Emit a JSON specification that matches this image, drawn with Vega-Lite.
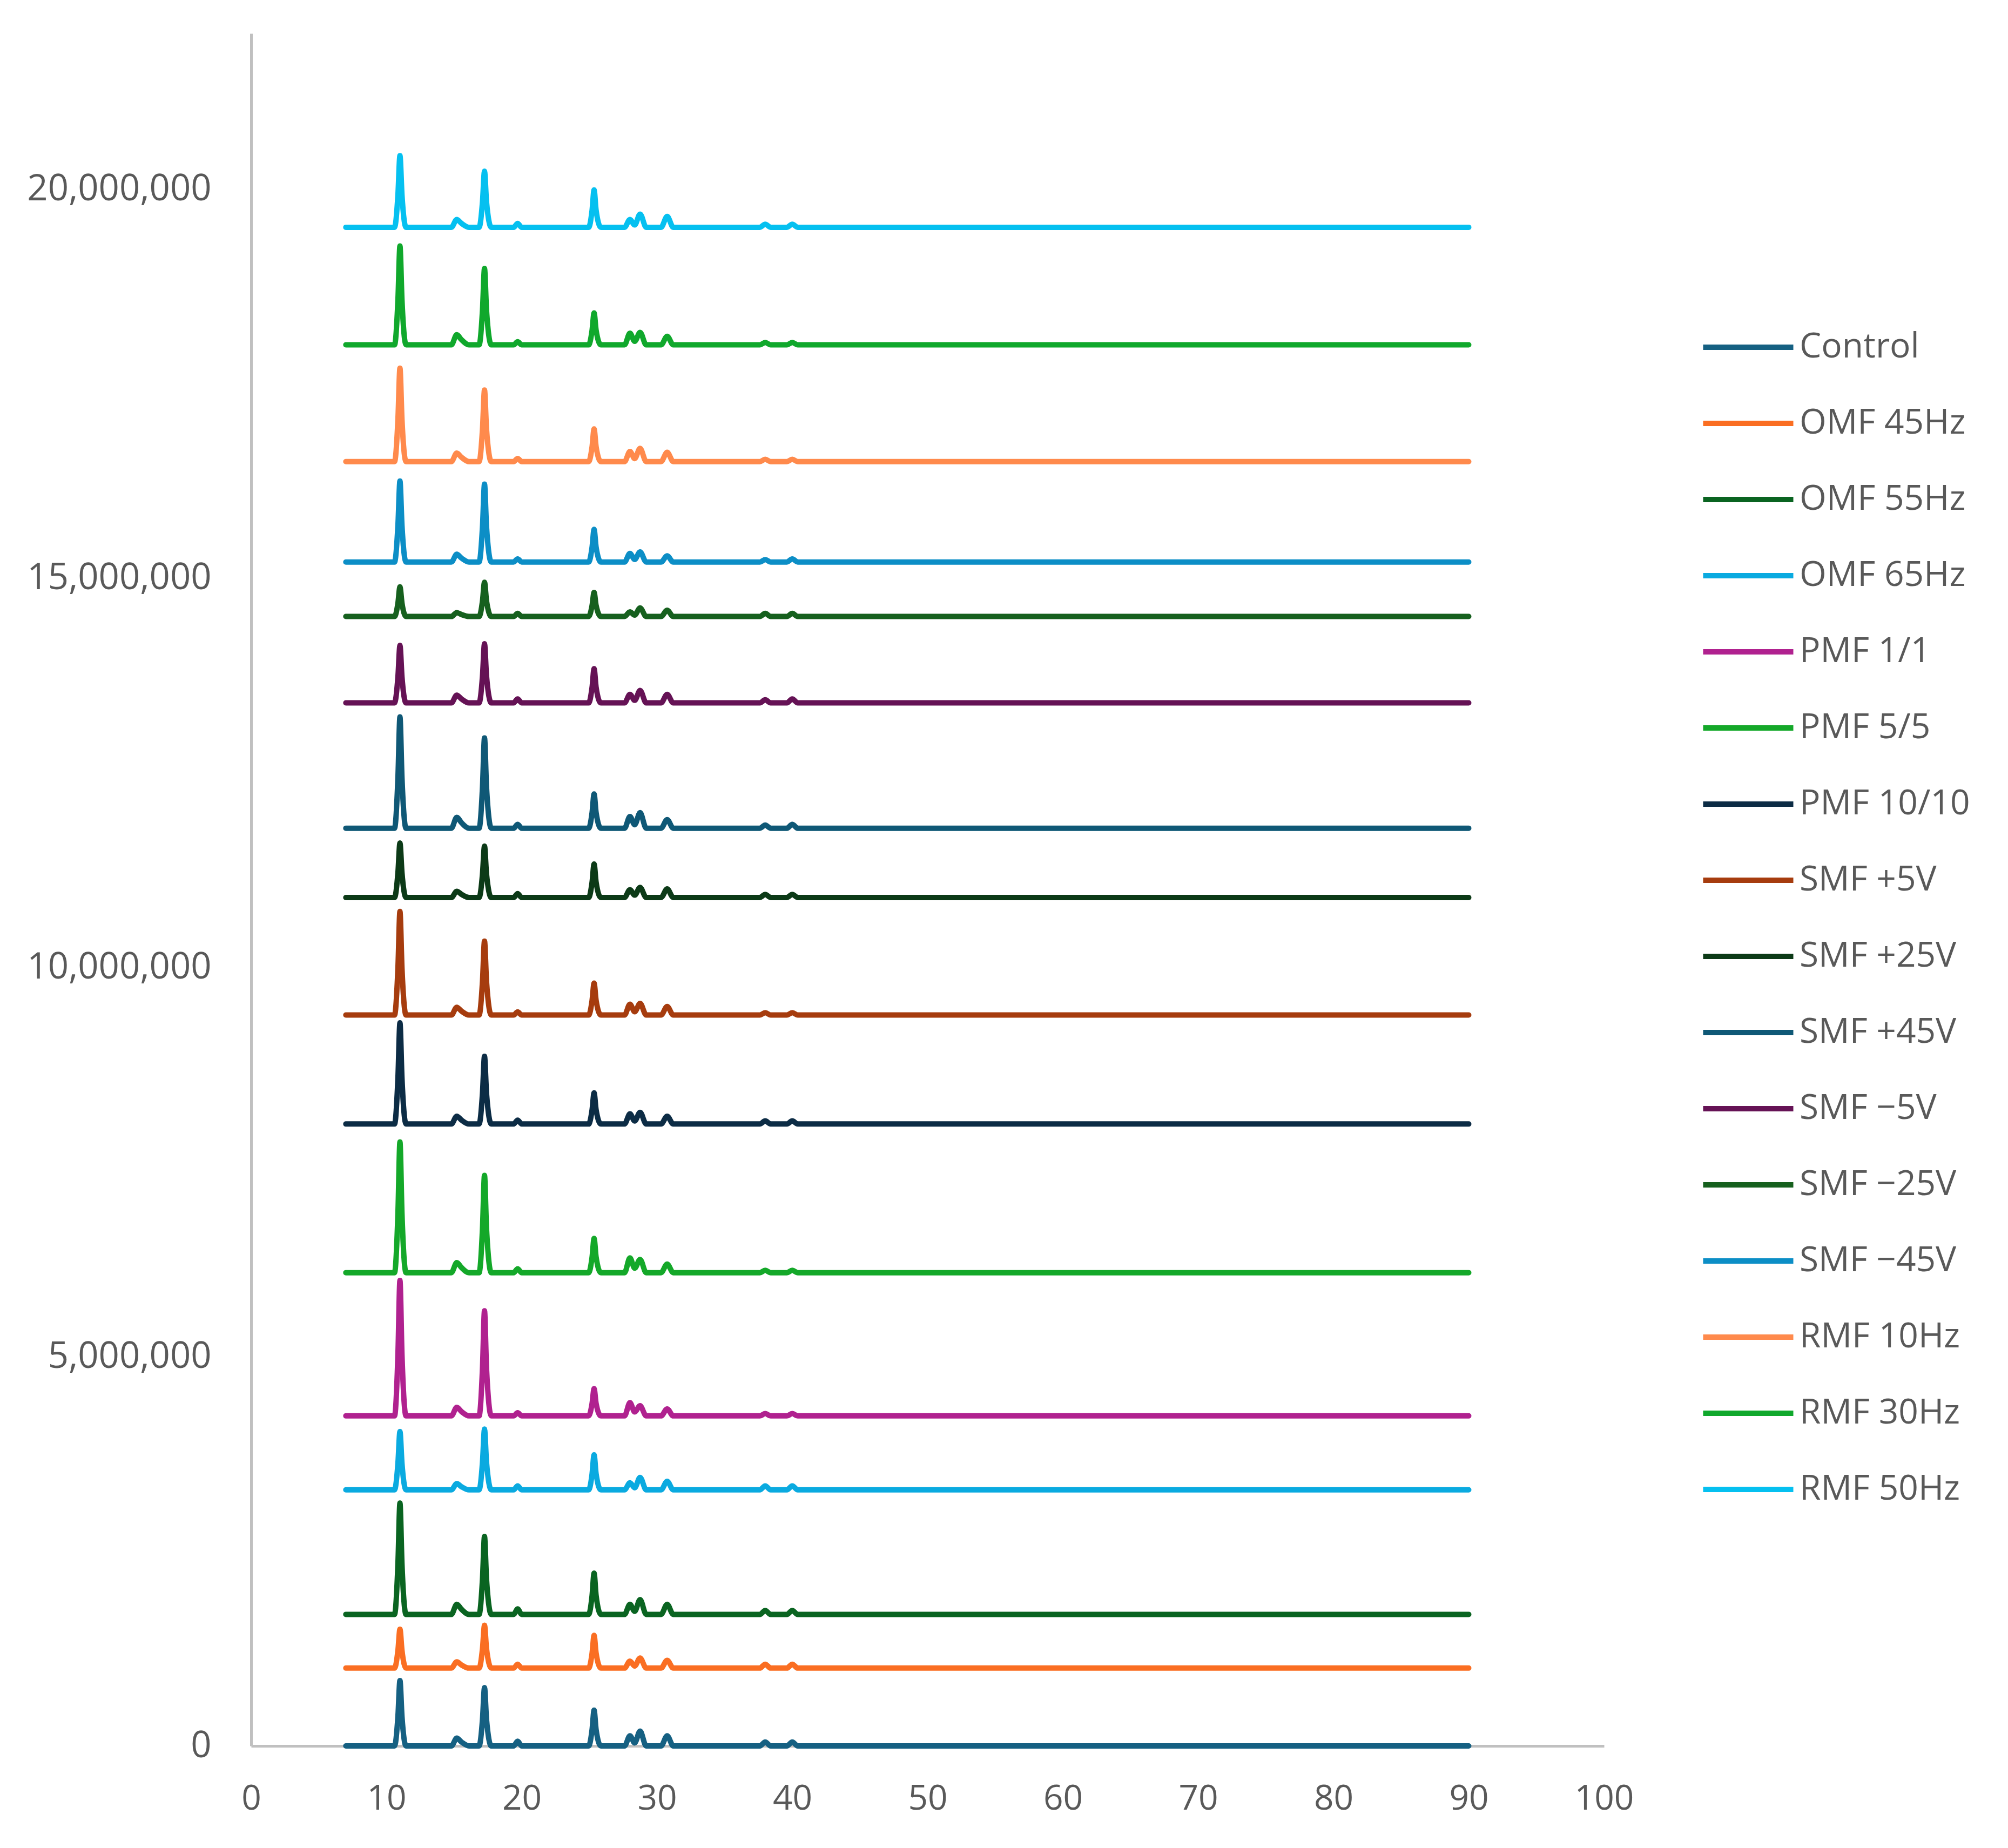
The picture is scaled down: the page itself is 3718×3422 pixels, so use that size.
{
  "$schema": "https://vega.github.io/schema/vega-lite/v6.json",
  "width": 2505,
  "height": 3171,
  "autosize": {"type": "none"},
  "padding": {"left": 465, "top": 62, "right": 748, "bottom": 189},
  "background": "white",
  "config": {"view": {"stroke": null}, "font": "Open Sans"},
  "data": {
    "values": [
      {"s":"Control","x":7,"y":0},{"s":"Control","x":10.6,"y":0},{"s":"Control","x":10.85,"y":378000},{"s":"Control","x":11,"y":840000},{"s":"Control","x":11.15,"y":378000},{"s":"Control","x":11.45,"y":0},
      {"s":"Control","x":14.8,"y":0},{"s":"Control","x":15.2,"y":100000},{"s":"Control","x":15.55,"y":50000},{"s":"Control","x":16.1,"y":0},{"s":"Control","x":16.85,"y":0},{"s":"Control","x":17.1,"y":338000},
      {"s":"Control","x":17.25,"y":750000},{"s":"Control","x":17.4,"y":338000},{"s":"Control","x":17.75,"y":0},{"s":"Control","x":19.4,"y":0},{"s":"Control","x":19.7,"y":60000},{"s":"Control","x":20,"y":0},
      {"s":"Control","x":24.95,"y":0},{"s":"Control","x":25.2,"y":207000},{"s":"Control","x":25.35,"y":460000},{"s":"Control","x":25.5,"y":207000},{"s":"Control","x":25.85,"y":0},{"s":"Control","x":27.6,"y":0},
      {"s":"Control","x":28,"y":130000},{"s":"Control","x":28.35,"y":39000},{"s":"Control","x":28.75,"y":190000},{"s":"Control","x":29.2,"y":0},{"s":"Control","x":30.3,"y":0},{"s":"Control","x":30.75,"y":130000},
      {"s":"Control","x":31.2,"y":0},{"s":"Control","x":37.6,"y":0},{"s":"Control","x":38,"y":50000},{"s":"Control","x":38.4,"y":0},{"s":"Control","x":39.6,"y":0},{"s":"Control","x":40,"y":50000},
      {"s":"Control","x":40.4,"y":0},{"s":"Control","x":90,"y":0},

      {"s":"OMF 45Hz","x":7,"y":1000000},{"s":"OMF 45Hz","x":10.6,"y":1000000},{"s":"OMF 45Hz","x":10.85,"y":1225000},{"s":"OMF 45Hz","x":11,"y":1500000},{"s":"OMF 45Hz","x":11.15,"y":1225000},{"s":"OMF 45Hz","x":11.45,"y":1000000},
      {"s":"OMF 45Hz","x":14.8,"y":1000000},{"s":"OMF 45Hz","x":15.2,"y":1080000},{"s":"OMF 45Hz","x":15.55,"y":1040000},{"s":"OMF 45Hz","x":16.1,"y":1000000},{"s":"OMF 45Hz","x":16.85,"y":1000000},{"s":"OMF 45Hz","x":17.1,"y":1248000},
      {"s":"OMF 45Hz","x":17.25,"y":1550000},{"s":"OMF 45Hz","x":17.4,"y":1248000},{"s":"OMF 45Hz","x":17.75,"y":1000000},{"s":"OMF 45Hz","x":19.4,"y":1000000},{"s":"OMF 45Hz","x":19.7,"y":1050000},{"s":"OMF 45Hz","x":20,"y":1000000},
      {"s":"OMF 45Hz","x":24.95,"y":1000000},{"s":"OMF 45Hz","x":25.2,"y":1189000},{"s":"OMF 45Hz","x":25.35,"y":1420000},{"s":"OMF 45Hz","x":25.5,"y":1189000},{"s":"OMF 45Hz","x":25.85,"y":1000000},{"s":"OMF 45Hz","x":27.6,"y":1000000},
      {"s":"OMF 45Hz","x":28,"y":1090000},{"s":"OMF 45Hz","x":28.35,"y":1027000},{"s":"OMF 45Hz","x":28.75,"y":1130000},{"s":"OMF 45Hz","x":29.2,"y":1000000},{"s":"OMF 45Hz","x":30.3,"y":1000000},{"s":"OMF 45Hz","x":30.75,"y":1100000},
      {"s":"OMF 45Hz","x":31.2,"y":1000000},{"s":"OMF 45Hz","x":37.6,"y":1000000},{"s":"OMF 45Hz","x":38,"y":1050000},{"s":"OMF 45Hz","x":38.4,"y":1000000},{"s":"OMF 45Hz","x":39.6,"y":1000000},{"s":"OMF 45Hz","x":40,"y":1050000},
      {"s":"OMF 45Hz","x":40.4,"y":1000000},{"s":"OMF 45Hz","x":90,"y":1000000},

      {"s":"OMF 55Hz","x":7,"y":1690000},{"s":"OMF 55Hz","x":10.6,"y":1690000},{"s":"OMF 55Hz","x":10.85,"y":2334000},{"s":"OMF 55Hz","x":11,"y":3120000},{"s":"OMF 55Hz","x":11.15,"y":2334000},{"s":"OMF 55Hz","x":11.45,"y":1690000},
      {"s":"OMF 55Hz","x":14.8,"y":1690000},{"s":"OMF 55Hz","x":15.2,"y":1820000},{"s":"OMF 55Hz","x":15.55,"y":1755000},{"s":"OMF 55Hz","x":16.1,"y":1690000},{"s":"OMF 55Hz","x":16.85,"y":1690000},{"s":"OMF 55Hz","x":17.1,"y":2140000},
      {"s":"OMF 55Hz","x":17.25,"y":2690000},{"s":"OMF 55Hz","x":17.4,"y":2140000},{"s":"OMF 55Hz","x":17.75,"y":1690000},{"s":"OMF 55Hz","x":19.4,"y":1690000},{"s":"OMF 55Hz","x":19.7,"y":1760000},{"s":"OMF 55Hz","x":20,"y":1690000},
      {"s":"OMF 55Hz","x":24.95,"y":1690000},{"s":"OMF 55Hz","x":25.2,"y":1929000},{"s":"OMF 55Hz","x":25.35,"y":2220000},{"s":"OMF 55Hz","x":25.5,"y":1929000},{"s":"OMF 55Hz","x":25.85,"y":1690000},{"s":"OMF 55Hz","x":27.6,"y":1690000},
      {"s":"OMF 55Hz","x":28,"y":1820000},{"s":"OMF 55Hz","x":28.35,"y":1729000},{"s":"OMF 55Hz","x":28.75,"y":1880000},{"s":"OMF 55Hz","x":29.2,"y":1690000},{"s":"OMF 55Hz","x":30.3,"y":1690000},{"s":"OMF 55Hz","x":30.75,"y":1820000},
      {"s":"OMF 55Hz","x":31.2,"y":1690000},{"s":"OMF 55Hz","x":37.6,"y":1690000},{"s":"OMF 55Hz","x":38,"y":1740000},{"s":"OMF 55Hz","x":38.4,"y":1690000},{"s":"OMF 55Hz","x":39.6,"y":1690000},{"s":"OMF 55Hz","x":40,"y":1740000},
      {"s":"OMF 55Hz","x":40.4,"y":1690000},{"s":"OMF 55Hz","x":90,"y":1690000},

      {"s":"OMF 65Hz","x":7,"y":3290000},{"s":"OMF 65Hz","x":10.6,"y":3290000},{"s":"OMF 65Hz","x":10.85,"y":3628000},{"s":"OMF 65Hz","x":11,"y":4040000},{"s":"OMF 65Hz","x":11.15,"y":3628000},{"s":"OMF 65Hz","x":11.45,"y":3290000},
      {"s":"OMF 65Hz","x":14.8,"y":3290000},{"s":"OMF 65Hz","x":15.2,"y":3370000},{"s":"OMF 65Hz","x":15.55,"y":3330000},{"s":"OMF 65Hz","x":16.1,"y":3290000},{"s":"OMF 65Hz","x":16.85,"y":3290000},{"s":"OMF 65Hz","x":17.1,"y":3641000},
      {"s":"OMF 65Hz","x":17.25,"y":4070000},{"s":"OMF 65Hz","x":17.4,"y":3641000},{"s":"OMF 65Hz","x":17.75,"y":3290000},{"s":"OMF 65Hz","x":19.4,"y":3290000},{"s":"OMF 65Hz","x":19.7,"y":3340000},{"s":"OMF 65Hz","x":20,"y":3290000},
      {"s":"OMF 65Hz","x":24.95,"y":3290000},{"s":"OMF 65Hz","x":25.2,"y":3493000},{"s":"OMF 65Hz","x":25.35,"y":3740000},{"s":"OMF 65Hz","x":25.5,"y":3493000},{"s":"OMF 65Hz","x":25.85,"y":3290000},{"s":"OMF 65Hz","x":27.6,"y":3290000},
      {"s":"OMF 65Hz","x":28,"y":3380000},{"s":"OMF 65Hz","x":28.35,"y":3317000},{"s":"OMF 65Hz","x":28.75,"y":3450000},{"s":"OMF 65Hz","x":29.2,"y":3290000},{"s":"OMF 65Hz","x":30.3,"y":3290000},{"s":"OMF 65Hz","x":30.75,"y":3400000},
      {"s":"OMF 65Hz","x":31.2,"y":3290000},{"s":"OMF 65Hz","x":37.6,"y":3290000},{"s":"OMF 65Hz","x":38,"y":3340000},{"s":"OMF 65Hz","x":38.4,"y":3290000},{"s":"OMF 65Hz","x":39.6,"y":3290000},{"s":"OMF 65Hz","x":40,"y":3340000},
      {"s":"OMF 65Hz","x":40.4,"y":3290000},{"s":"OMF 65Hz","x":90,"y":3290000},

      {"s":"PMF 1/1","x":7,"y":4240000},{"s":"PMF 1/1","x":10.6,"y":4240000},{"s":"PMF 1/1","x":10.85,"y":5023000},{"s":"PMF 1/1","x":11,"y":5980000},{"s":"PMF 1/1","x":11.15,"y":5023000},{"s":"PMF 1/1","x":11.45,"y":4240000},
      {"s":"PMF 1/1","x":14.8,"y":4240000},{"s":"PMF 1/1","x":15.2,"y":4350000},{"s":"PMF 1/1","x":15.55,"y":4295000},{"s":"PMF 1/1","x":16.1,"y":4240000},{"s":"PMF 1/1","x":16.85,"y":4240000},{"s":"PMF 1/1","x":17.1,"y":4848000},
      {"s":"PMF 1/1","x":17.25,"y":5590000},{"s":"PMF 1/1","x":17.4,"y":4848000},{"s":"PMF 1/1","x":17.75,"y":4240000},{"s":"PMF 1/1","x":19.4,"y":4240000},{"s":"PMF 1/1","x":19.7,"y":4280000},{"s":"PMF 1/1","x":20,"y":4240000},
      {"s":"PMF 1/1","x":24.95,"y":4240000},{"s":"PMF 1/1","x":25.2,"y":4398000},{"s":"PMF 1/1","x":25.35,"y":4590000},{"s":"PMF 1/1","x":25.5,"y":4398000},{"s":"PMF 1/1","x":25.85,"y":4240000},{"s":"PMF 1/1","x":27.6,"y":4240000},
      {"s":"PMF 1/1","x":28,"y":4410000},{"s":"PMF 1/1","x":28.35,"y":4291000},{"s":"PMF 1/1","x":28.75,"y":4370000},{"s":"PMF 1/1","x":29.2,"y":4240000},{"s":"PMF 1/1","x":30.3,"y":4240000},{"s":"PMF 1/1","x":30.75,"y":4330000},
      {"s":"PMF 1/1","x":31.2,"y":4240000},{"s":"PMF 1/1","x":37.6,"y":4240000},{"s":"PMF 1/1","x":38,"y":4270000},{"s":"PMF 1/1","x":38.4,"y":4240000},{"s":"PMF 1/1","x":39.6,"y":4240000},{"s":"PMF 1/1","x":40,"y":4270000},
      {"s":"PMF 1/1","x":40.4,"y":4240000},{"s":"PMF 1/1","x":90,"y":4240000},

      {"s":"PMF 5/5","x":7,"y":6080000},{"s":"PMF 5/5","x":10.6,"y":6080000},{"s":"PMF 5/5","x":10.85,"y":6836000},{"s":"PMF 5/5","x":11,"y":7760000},{"s":"PMF 5/5","x":11.15,"y":6836000},{"s":"PMF 5/5","x":11.45,"y":6080000},
      {"s":"PMF 5/5","x":14.8,"y":6080000},{"s":"PMF 5/5","x":15.2,"y":6210000},{"s":"PMF 5/5","x":15.55,"y":6145000},{"s":"PMF 5/5","x":16.1,"y":6080000},{"s":"PMF 5/5","x":16.85,"y":6080000},{"s":"PMF 5/5","x":17.1,"y":6643000},
      {"s":"PMF 5/5","x":17.25,"y":7330000},{"s":"PMF 5/5","x":17.4,"y":6643000},{"s":"PMF 5/5","x":17.75,"y":6080000},{"s":"PMF 5/5","x":19.4,"y":6080000},{"s":"PMF 5/5","x":19.7,"y":6130000},{"s":"PMF 5/5","x":20,"y":6080000},
      {"s":"PMF 5/5","x":24.95,"y":6080000},{"s":"PMF 5/5","x":25.2,"y":6278000},{"s":"PMF 5/5","x":25.35,"y":6520000},{"s":"PMF 5/5","x":25.5,"y":6278000},{"s":"PMF 5/5","x":25.85,"y":6080000},{"s":"PMF 5/5","x":27.6,"y":6080000},
      {"s":"PMF 5/5","x":28,"y":6270000},{"s":"PMF 5/5","x":28.35,"y":6137000},{"s":"PMF 5/5","x":28.75,"y":6250000},{"s":"PMF 5/5","x":29.2,"y":6080000},{"s":"PMF 5/5","x":30.3,"y":6080000},{"s":"PMF 5/5","x":30.75,"y":6190000},
      {"s":"PMF 5/5","x":31.2,"y":6080000},{"s":"PMF 5/5","x":37.6,"y":6080000},{"s":"PMF 5/5","x":38,"y":6110000},{"s":"PMF 5/5","x":38.4,"y":6080000},{"s":"PMF 5/5","x":39.6,"y":6080000},{"s":"PMF 5/5","x":40,"y":6110000},
      {"s":"PMF 5/5","x":40.4,"y":6080000},{"s":"PMF 5/5","x":90,"y":6080000},

      {"s":"PMF 10/10","x":7,"y":7990000},{"s":"PMF 10/10","x":10.6,"y":7990000},{"s":"PMF 10/10","x":10.85,"y":8575000},{"s":"PMF 10/10","x":11,"y":9290000},{"s":"PMF 10/10","x":11.15,"y":8575000},{"s":"PMF 10/10","x":11.45,"y":7990000},
      {"s":"PMF 10/10","x":14.8,"y":7990000},{"s":"PMF 10/10","x":15.2,"y":8090000},{"s":"PMF 10/10","x":15.55,"y":8040000},{"s":"PMF 10/10","x":16.1,"y":7990000},{"s":"PMF 10/10","x":16.85,"y":7990000},{"s":"PMF 10/10","x":17.1,"y":8382000},
      {"s":"PMF 10/10","x":17.25,"y":8860000},{"s":"PMF 10/10","x":17.4,"y":8382000},{"s":"PMF 10/10","x":17.75,"y":7990000},{"s":"PMF 10/10","x":19.4,"y":7990000},{"s":"PMF 10/10","x":19.7,"y":8040000},{"s":"PMF 10/10","x":20,"y":7990000},
      {"s":"PMF 10/10","x":24.95,"y":7990000},{"s":"PMF 10/10","x":25.2,"y":8170000},{"s":"PMF 10/10","x":25.35,"y":8390000},{"s":"PMF 10/10","x":25.5,"y":8170000},{"s":"PMF 10/10","x":25.85,"y":7990000},{"s":"PMF 10/10","x":27.6,"y":7990000},
      {"s":"PMF 10/10","x":28,"y":8120000},{"s":"PMF 10/10","x":28.35,"y":8029000},{"s":"PMF 10/10","x":28.75,"y":8140000},{"s":"PMF 10/10","x":29.2,"y":7990000},{"s":"PMF 10/10","x":30.3,"y":7990000},{"s":"PMF 10/10","x":30.75,"y":8090000},
      {"s":"PMF 10/10","x":31.2,"y":7990000},{"s":"PMF 10/10","x":37.6,"y":7990000},{"s":"PMF 10/10","x":38,"y":8030000},{"s":"PMF 10/10","x":38.4,"y":7990000},{"s":"PMF 10/10","x":39.6,"y":7990000},{"s":"PMF 10/10","x":40,"y":8030000},
      {"s":"PMF 10/10","x":40.4,"y":7990000},{"s":"PMF 10/10","x":90,"y":7990000},

      {"s":"SMF +5V","x":7,"y":9390000},{"s":"SMF +5V","x":10.6,"y":9390000},{"s":"SMF +5V","x":10.85,"y":9989000},{"s":"SMF +5V","x":11,"y":10720000},{"s":"SMF +5V","x":11.15,"y":9989000},{"s":"SMF +5V","x":11.45,"y":9390000},
      {"s":"SMF +5V","x":14.8,"y":9390000},{"s":"SMF +5V","x":15.2,"y":9490000},{"s":"SMF +5V","x":15.55,"y":9440000},{"s":"SMF +5V","x":16.1,"y":9390000},{"s":"SMF +5V","x":16.85,"y":9390000},{"s":"SMF +5V","x":17.1,"y":9818000},
      {"s":"SMF +5V","x":17.25,"y":10340000},{"s":"SMF +5V","x":17.4,"y":9818000},{"s":"SMF +5V","x":17.75,"y":9390000},{"s":"SMF +5V","x":19.4,"y":9390000},{"s":"SMF +5V","x":19.7,"y":9430000},{"s":"SMF +5V","x":20,"y":9390000},
      {"s":"SMF +5V","x":24.95,"y":9390000},{"s":"SMF +5V","x":25.2,"y":9575000},{"s":"SMF +5V","x":25.35,"y":9800000},{"s":"SMF +5V","x":25.5,"y":9575000},{"s":"SMF +5V","x":25.85,"y":9390000},{"s":"SMF +5V","x":27.6,"y":9390000},
      {"s":"SMF +5V","x":28,"y":9530000},{"s":"SMF +5V","x":28.35,"y":9432000},{"s":"SMF +5V","x":28.75,"y":9540000},{"s":"SMF +5V","x":29.2,"y":9390000},{"s":"SMF +5V","x":30.3,"y":9390000},{"s":"SMF +5V","x":30.75,"y":9500000},
      {"s":"SMF +5V","x":31.2,"y":9390000},{"s":"SMF +5V","x":37.6,"y":9390000},{"s":"SMF +5V","x":38,"y":9420000},{"s":"SMF +5V","x":38.4,"y":9390000},{"s":"SMF +5V","x":39.6,"y":9390000},{"s":"SMF +5V","x":40,"y":9420000},
      {"s":"SMF +5V","x":40.4,"y":9390000},{"s":"SMF +5V","x":90,"y":9390000},

      {"s":"SMF +25V","x":7,"y":10900000},{"s":"SMF +25V","x":10.6,"y":10900000},{"s":"SMF +25V","x":10.85,"y":11215000},{"s":"SMF +25V","x":11,"y":11600000},{"s":"SMF +25V","x":11.15,"y":11215000},{"s":"SMF +25V","x":11.45,"y":10900000},
      {"s":"SMF +25V","x":14.8,"y":10900000},{"s":"SMF +25V","x":15.2,"y":10980000},{"s":"SMF +25V","x":15.55,"y":10940000},{"s":"SMF +25V","x":16.1,"y":10900000},{"s":"SMF +25V","x":16.85,"y":10900000},{"s":"SMF +25V","x":17.1,"y":11197000},
      {"s":"SMF +25V","x":17.25,"y":11560000},{"s":"SMF +25V","x":17.4,"y":11197000},{"s":"SMF +25V","x":17.75,"y":10900000},{"s":"SMF +25V","x":19.4,"y":10900000},{"s":"SMF +25V","x":19.7,"y":10950000},{"s":"SMF +25V","x":20,"y":10900000},
      {"s":"SMF +25V","x":24.95,"y":10900000},{"s":"SMF +25V","x":25.2,"y":11094000},{"s":"SMF +25V","x":25.35,"y":11330000},{"s":"SMF +25V","x":25.5,"y":11094000},{"s":"SMF +25V","x":25.85,"y":10900000},{"s":"SMF +25V","x":27.6,"y":10900000},
      {"s":"SMF +25V","x":28,"y":11000000},{"s":"SMF +25V","x":28.35,"y":10930000},{"s":"SMF +25V","x":28.75,"y":11030000},{"s":"SMF +25V","x":29.2,"y":10900000},{"s":"SMF +25V","x":30.3,"y":10900000},{"s":"SMF +25V","x":30.75,"y":11010000},
      {"s":"SMF +25V","x":31.2,"y":10900000},{"s":"SMF +25V","x":37.6,"y":10900000},{"s":"SMF +25V","x":38,"y":10940000},{"s":"SMF +25V","x":38.4,"y":10900000},{"s":"SMF +25V","x":39.6,"y":10900000},{"s":"SMF +25V","x":40,"y":10940000},
      {"s":"SMF +25V","x":40.4,"y":10900000},{"s":"SMF +25V","x":90,"y":10900000},

      {"s":"SMF +45V","x":7,"y":11790000},{"s":"SMF +45V","x":10.6,"y":11790000},{"s":"SMF +45V","x":10.85,"y":12434000},{"s":"SMF +45V","x":11,"y":13220000},{"s":"SMF +45V","x":11.15,"y":12434000},{"s":"SMF +45V","x":11.45,"y":11790000},
      {"s":"SMF +45V","x":14.8,"y":11790000},{"s":"SMF +45V","x":15.2,"y":11930000},{"s":"SMF +45V","x":15.55,"y":11860000},{"s":"SMF +45V","x":16.1,"y":11790000},{"s":"SMF +45V","x":16.85,"y":11790000},{"s":"SMF +45V","x":17.1,"y":12312000},
      {"s":"SMF +45V","x":17.25,"y":12950000},{"s":"SMF +45V","x":17.4,"y":12312000},{"s":"SMF +45V","x":17.75,"y":11790000},{"s":"SMF +45V","x":19.4,"y":11790000},{"s":"SMF +45V","x":19.7,"y":11840000},{"s":"SMF +45V","x":20,"y":11790000},
      {"s":"SMF +45V","x":24.95,"y":11790000},{"s":"SMF +45V","x":25.2,"y":11988000},{"s":"SMF +45V","x":25.35,"y":12230000},{"s":"SMF +45V","x":25.5,"y":11988000},{"s":"SMF +45V","x":25.85,"y":11790000},{"s":"SMF +45V","x":27.6,"y":11790000},
      {"s":"SMF +45V","x":28,"y":11940000},{"s":"SMF +45V","x":28.35,"y":11835000},{"s":"SMF +45V","x":28.75,"y":11990000},{"s":"SMF +45V","x":29.2,"y":11790000},{"s":"SMF +45V","x":30.3,"y":11790000},{"s":"SMF +45V","x":30.75,"y":11900000},
      {"s":"SMF +45V","x":31.2,"y":11790000},{"s":"SMF +45V","x":37.6,"y":11790000},{"s":"SMF +45V","x":38,"y":11830000},{"s":"SMF +45V","x":38.4,"y":11790000},{"s":"SMF +45V","x":39.6,"y":11790000},{"s":"SMF +45V","x":40,"y":11840000},
      {"s":"SMF +45V","x":40.4,"y":11790000},{"s":"SMF +45V","x":90,"y":11790000},

      {"s":"SMF −5V","x":7,"y":13400000},{"s":"SMF −5V","x":10.6,"y":13400000},{"s":"SMF −5V","x":10.85,"y":13733000},{"s":"SMF −5V","x":11,"y":14140000},{"s":"SMF −5V","x":11.15,"y":13733000},{"s":"SMF −5V","x":11.45,"y":13400000},
      {"s":"SMF −5V","x":14.8,"y":13400000},{"s":"SMF −5V","x":15.2,"y":13500000},{"s":"SMF −5V","x":15.55,"y":13450000},{"s":"SMF −5V","x":16.1,"y":13400000},{"s":"SMF −5V","x":16.85,"y":13400000},{"s":"SMF −5V","x":17.1,"y":13742000},
      {"s":"SMF −5V","x":17.25,"y":14160000},{"s":"SMF −5V","x":17.4,"y":13742000},{"s":"SMF −5V","x":17.75,"y":13400000},{"s":"SMF −5V","x":19.4,"y":13400000},{"s":"SMF −5V","x":19.7,"y":13450000},{"s":"SMF −5V","x":20,"y":13400000},
      {"s":"SMF −5V","x":24.95,"y":13400000},{"s":"SMF −5V","x":25.2,"y":13598000},{"s":"SMF −5V","x":25.35,"y":13840000},{"s":"SMF −5V","x":25.5,"y":13598000},{"s":"SMF −5V","x":25.85,"y":13400000},{"s":"SMF −5V","x":27.6,"y":13400000},
      {"s":"SMF −5V","x":28,"y":13510000},{"s":"SMF −5V","x":28.35,"y":13433000},{"s":"SMF −5V","x":28.75,"y":13560000},{"s":"SMF −5V","x":29.2,"y":13400000},{"s":"SMF −5V","x":30.3,"y":13400000},{"s":"SMF −5V","x":30.75,"y":13510000},
      {"s":"SMF −5V","x":31.2,"y":13400000},{"s":"SMF −5V","x":37.6,"y":13400000},{"s":"SMF −5V","x":38,"y":13440000},{"s":"SMF −5V","x":38.4,"y":13400000},{"s":"SMF −5V","x":39.6,"y":13400000},{"s":"SMF −5V","x":40,"y":13450000},
      {"s":"SMF −5V","x":40.4,"y":13400000},{"s":"SMF −5V","x":90,"y":13400000},

      {"s":"SMF −25V","x":7,"y":14510000},{"s":"SMF −25V","x":10.6,"y":14510000},{"s":"SMF −25V","x":10.85,"y":14681000},{"s":"SMF −25V","x":11,"y":14890000},{"s":"SMF −25V","x":11.15,"y":14681000},{"s":"SMF −25V","x":11.45,"y":14510000},
      {"s":"SMF −25V","x":14.8,"y":14510000},{"s":"SMF −25V","x":15.2,"y":14560000},{"s":"SMF −25V","x":15.55,"y":14535000},{"s":"SMF −25V","x":16.1,"y":14510000},{"s":"SMF −25V","x":16.85,"y":14510000},{"s":"SMF −25V","x":17.1,"y":14708000},
      {"s":"SMF −25V","x":17.25,"y":14950000},{"s":"SMF −25V","x":17.4,"y":14708000},{"s":"SMF −25V","x":17.75,"y":14510000},{"s":"SMF −25V","x":19.4,"y":14510000},{"s":"SMF −25V","x":19.7,"y":14550000},{"s":"SMF −25V","x":20,"y":14510000},
      {"s":"SMF −25V","x":24.95,"y":14510000},{"s":"SMF −25V","x":25.2,"y":14650000},{"s":"SMF −25V","x":25.35,"y":14820000},{"s":"SMF −25V","x":25.5,"y":14650000},{"s":"SMF −25V","x":25.85,"y":14510000},{"s":"SMF −25V","x":27.6,"y":14510000},
      {"s":"SMF −25V","x":28,"y":14570000},{"s":"SMF −25V","x":28.35,"y":14528000},{"s":"SMF −25V","x":28.75,"y":14620000},{"s":"SMF −25V","x":29.2,"y":14510000},{"s":"SMF −25V","x":30.3,"y":14510000},{"s":"SMF −25V","x":30.75,"y":14590000},
      {"s":"SMF −25V","x":31.2,"y":14510000},{"s":"SMF −25V","x":37.6,"y":14510000},{"s":"SMF −25V","x":38,"y":14550000},{"s":"SMF −25V","x":38.4,"y":14510000},{"s":"SMF −25V","x":39.6,"y":14510000},{"s":"SMF −25V","x":40,"y":14550000},
      {"s":"SMF −25V","x":40.4,"y":14510000},{"s":"SMF −25V","x":90,"y":14510000},

      {"s":"SMF −45V","x":7,"y":15210000},{"s":"SMF −45V","x":10.6,"y":15210000},{"s":"SMF −45V","x":10.85,"y":15678000},{"s":"SMF −45V","x":11,"y":16250000},{"s":"SMF −45V","x":11.15,"y":15678000},{"s":"SMF −45V","x":11.45,"y":15210000},
      {"s":"SMF −45V","x":14.8,"y":15210000},{"s":"SMF −45V","x":15.2,"y":15310000},{"s":"SMF −45V","x":15.55,"y":15260000},{"s":"SMF −45V","x":16.1,"y":15210000},{"s":"SMF −45V","x":16.85,"y":15210000},{"s":"SMF −45V","x":17.1,"y":15660000},
      {"s":"SMF −45V","x":17.25,"y":16210000},{"s":"SMF −45V","x":17.4,"y":15660000},{"s":"SMF −45V","x":17.75,"y":15210000},{"s":"SMF −45V","x":19.4,"y":15210000},{"s":"SMF −45V","x":19.7,"y":15250000},{"s":"SMF −45V","x":20,"y":15210000},
      {"s":"SMF −45V","x":24.95,"y":15210000},{"s":"SMF −45V","x":25.2,"y":15399000},{"s":"SMF −45V","x":25.35,"y":15630000},{"s":"SMF −45V","x":25.5,"y":15399000},{"s":"SMF −45V","x":25.85,"y":15210000},{"s":"SMF −45V","x":27.6,"y":15210000},
      {"s":"SMF −45V","x":28,"y":15320000},{"s":"SMF −45V","x":28.35,"y":15243000},{"s":"SMF −45V","x":28.75,"y":15340000},{"s":"SMF −45V","x":29.2,"y":15210000},{"s":"SMF −45V","x":30.3,"y":15210000},{"s":"SMF −45V","x":30.75,"y":15290000},
      {"s":"SMF −45V","x":31.2,"y":15210000},{"s":"SMF −45V","x":37.6,"y":15210000},{"s":"SMF −45V","x":38,"y":15240000},{"s":"SMF −45V","x":38.4,"y":15210000},{"s":"SMF −45V","x":39.6,"y":15210000},{"s":"SMF −45V","x":40,"y":15250000},
      {"s":"SMF −45V","x":40.4,"y":15210000},{"s":"SMF −45V","x":90,"y":15210000},

      {"s":"RMF 10Hz","x":7,"y":16500000},{"s":"RMF 10Hz","x":10.6,"y":16500000},{"s":"RMF 10Hz","x":10.85,"y":17040000},{"s":"RMF 10Hz","x":11,"y":17700000},{"s":"RMF 10Hz","x":11.15,"y":17040000},{"s":"RMF 10Hz","x":11.45,"y":16500000},
      {"s":"RMF 10Hz","x":14.8,"y":16500000},{"s":"RMF 10Hz","x":15.2,"y":16610000},{"s":"RMF 10Hz","x":15.55,"y":16555000},{"s":"RMF 10Hz","x":16.1,"y":16500000},{"s":"RMF 10Hz","x":16.85,"y":16500000},{"s":"RMF 10Hz","x":17.1,"y":16914000},
      {"s":"RMF 10Hz","x":17.25,"y":17420000},{"s":"RMF 10Hz","x":17.4,"y":16914000},{"s":"RMF 10Hz","x":17.75,"y":16500000},{"s":"RMF 10Hz","x":19.4,"y":16500000},{"s":"RMF 10Hz","x":19.7,"y":16540000},{"s":"RMF 10Hz","x":20,"y":16500000},
      {"s":"RMF 10Hz","x":24.95,"y":16500000},{"s":"RMF 10Hz","x":25.2,"y":16689000},{"s":"RMF 10Hz","x":25.35,"y":16920000},{"s":"RMF 10Hz","x":25.5,"y":16689000},{"s":"RMF 10Hz","x":25.85,"y":16500000},{"s":"RMF 10Hz","x":27.6,"y":16500000},
      {"s":"RMF 10Hz","x":28,"y":16630000},{"s":"RMF 10Hz","x":28.35,"y":16539000},{"s":"RMF 10Hz","x":28.75,"y":16670000},{"s":"RMF 10Hz","x":29.2,"y":16500000},{"s":"RMF 10Hz","x":30.3,"y":16500000},{"s":"RMF 10Hz","x":30.75,"y":16620000},
      {"s":"RMF 10Hz","x":31.2,"y":16500000},{"s":"RMF 10Hz","x":37.6,"y":16500000},{"s":"RMF 10Hz","x":38,"y":16530000},{"s":"RMF 10Hz","x":38.4,"y":16500000},{"s":"RMF 10Hz","x":39.6,"y":16500000},{"s":"RMF 10Hz","x":40,"y":16530000},
      {"s":"RMF 10Hz","x":40.4,"y":16500000},{"s":"RMF 10Hz","x":90,"y":16500000},

      {"s":"RMF 30Hz","x":7,"y":18000000},{"s":"RMF 30Hz","x":10.6,"y":18000000},{"s":"RMF 30Hz","x":10.85,"y":18572000},{"s":"RMF 30Hz","x":11,"y":19270000},{"s":"RMF 30Hz","x":11.15,"y":18572000},{"s":"RMF 30Hz","x":11.45,"y":18000000},
      {"s":"RMF 30Hz","x":14.8,"y":18000000},{"s":"RMF 30Hz","x":15.2,"y":18130000},{"s":"RMF 30Hz","x":15.55,"y":18065000},{"s":"RMF 30Hz","x":16.1,"y":18000000},{"s":"RMF 30Hz","x":16.85,"y":18000000},{"s":"RMF 30Hz","x":17.1,"y":18441000},
      {"s":"RMF 30Hz","x":17.25,"y":18980000},{"s":"RMF 30Hz","x":17.4,"y":18441000},{"s":"RMF 30Hz","x":17.75,"y":18000000},{"s":"RMF 30Hz","x":19.4,"y":18000000},{"s":"RMF 30Hz","x":19.7,"y":18040000},{"s":"RMF 30Hz","x":20,"y":18000000},
      {"s":"RMF 30Hz","x":24.95,"y":18000000},{"s":"RMF 30Hz","x":25.2,"y":18185000},{"s":"RMF 30Hz","x":25.35,"y":18410000},{"s":"RMF 30Hz","x":25.5,"y":18185000},{"s":"RMF 30Hz","x":25.85,"y":18000000},{"s":"RMF 30Hz","x":27.6,"y":18000000},
      {"s":"RMF 30Hz","x":28,"y":18150000},{"s":"RMF 30Hz","x":28.35,"y":18045000},{"s":"RMF 30Hz","x":28.75,"y":18160000},{"s":"RMF 30Hz","x":29.2,"y":18000000},{"s":"RMF 30Hz","x":30.3,"y":18000000},{"s":"RMF 30Hz","x":30.75,"y":18110000},
      {"s":"RMF 30Hz","x":31.2,"y":18000000},{"s":"RMF 30Hz","x":37.6,"y":18000000},{"s":"RMF 30Hz","x":38,"y":18030000},{"s":"RMF 30Hz","x":38.4,"y":18000000},{"s":"RMF 30Hz","x":39.6,"y":18000000},{"s":"RMF 30Hz","x":40,"y":18030000},
      {"s":"RMF 30Hz","x":40.4,"y":18000000},{"s":"RMF 30Hz","x":90,"y":18000000},

      {"s":"RMF 50Hz","x":7,"y":19510000},{"s":"RMF 50Hz","x":10.6,"y":19510000},{"s":"RMF 50Hz","x":10.85,"y":19924000},{"s":"RMF 50Hz","x":11,"y":20430000},{"s":"RMF 50Hz","x":11.15,"y":19924000},{"s":"RMF 50Hz","x":11.45,"y":19510000},
      {"s":"RMF 50Hz","x":14.8,"y":19510000},{"s":"RMF 50Hz","x":15.2,"y":19610000},{"s":"RMF 50Hz","x":15.55,"y":19560000},{"s":"RMF 50Hz","x":16.1,"y":19510000},{"s":"RMF 50Hz","x":16.85,"y":19510000},{"s":"RMF 50Hz","x":17.1,"y":19834000},
      {"s":"RMF 50Hz","x":17.25,"y":20230000},{"s":"RMF 50Hz","x":17.4,"y":19834000},{"s":"RMF 50Hz","x":17.75,"y":19510000},{"s":"RMF 50Hz","x":19.4,"y":19510000},{"s":"RMF 50Hz","x":19.7,"y":19560000},{"s":"RMF 50Hz","x":20,"y":19510000},
      {"s":"RMF 50Hz","x":24.95,"y":19510000},{"s":"RMF 50Hz","x":25.2,"y":19726000},{"s":"RMF 50Hz","x":25.35,"y":19990000},{"s":"RMF 50Hz","x":25.5,"y":19726000},{"s":"RMF 50Hz","x":25.85,"y":19510000},{"s":"RMF 50Hz","x":27.6,"y":19510000},
      {"s":"RMF 50Hz","x":28,"y":19610000},{"s":"RMF 50Hz","x":28.35,"y":19540000},{"s":"RMF 50Hz","x":28.75,"y":19680000},{"s":"RMF 50Hz","x":29.2,"y":19510000},{"s":"RMF 50Hz","x":30.3,"y":19510000},{"s":"RMF 50Hz","x":30.75,"y":19650000},
      {"s":"RMF 50Hz","x":31.2,"y":19510000},{"s":"RMF 50Hz","x":37.6,"y":19510000},{"s":"RMF 50Hz","x":38,"y":19550000},{"s":"RMF 50Hz","x":38.4,"y":19510000},{"s":"RMF 50Hz","x":39.6,"y":19510000},{"s":"RMF 50Hz","x":40,"y":19550000},
      {"s":"RMF 50Hz","x":40.4,"y":19510000},{"s":"RMF 50Hz","x":90,"y":19510000}
    ]
  },
  "mark": {"type": "line", "strokeWidth": 10, "strokeCap": "round", "strokeJoin": "round", "interpolate": "monotone"},
  "encoding": {
    "x": {
      "field": "x",
      "type": "quantitative",
      "scale": {"domain": [0, 100], "nice": false},
      "axis": {
        "title": null,
        "values": [0, 10, 20, 30, 40, 50, 60, 70, 80, 90, 100],
        "grid": false,
        "ticks": false,
        "labelFlush": false,
        "domainColor": "#C0C0C0",
        "domainWidth": 5,
        "labelFont": "Open Sans",
        "labelFontSize": 64,
        "labelColor": "#595959",
        "labelPadding": 66
      }
    },
    "y": {
      "field": "y",
      "type": "quantitative",
      "scale": {"domain": [0, 22000000], "nice": false},
      "axis": {
        "title": null,
        "values": [0, 5000000, 10000000, 15000000, 20000000],
        "format": ",d",
        "grid": false,
        "ticks": false,
        "labelFlush": false,
        "labelLimit": 1000,
        "domainColor": "#C0C0C0",
        "domainWidth": 5,
        "labelFont": "Open Sans",
        "labelFontSize": 67,
        "labelColor": "#595959",
        "labelPadding": 74
      }
    },
    "color": {
      "field": "s",
      "type": "nominal",
      "scale": {
        "domain": ["Control", "OMF 45Hz", "OMF 55Hz", "OMF 65Hz", "PMF 1/1", "PMF 5/5", "PMF 10/10", "SMF +5V", "SMF +25V", "SMF +45V", "SMF −5V", "SMF −25V", "SMF −45V", "RMF 10Hz", "RMF 30Hz", "RMF 50Hz"],
        "range": ["#156082", "#FA6E22", "#0A6421", "#0AAAE0", "#B0218F", "#14A829", "#0C2C45", "#A63C0E", "#0C3A17", "#0F5876", "#651255", "#16601E", "#0C8EC6", "#FF8A4C", "#10A82C", "#05C0F0"]
      },
      "legend": {
        "title": null,
        "orient": "none",
        "legendX": 2683,
        "legendY": 492,
        "symbolType": "stroke",
        "symbolSize": 27900,
        "symbolStrokeWidth": 10,
        "labelFont": "Open Sans",
        "labelFontSize": 64,
        "labelColor": "#595959",
        "labelOffset": 6,
        "labelLimit": 700,
        "rowPadding": 20
      }
    }
  }
}
